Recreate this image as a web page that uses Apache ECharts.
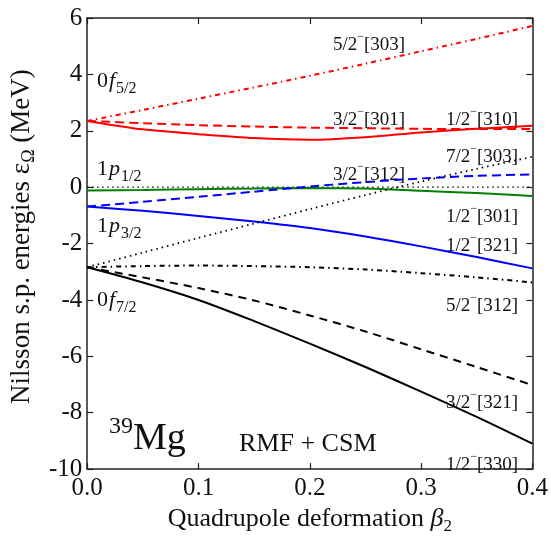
<!DOCTYPE html>
<html>
<head>
<meta charset="utf-8">
<script src="https://cdn.jsdelivr.net/npm/echarts@6/dist/echarts.min.js"></script>
<style>
  html, body { margin: 0; padding: 0; background: #fff; }
  #main { width: 551px; height: 540px; }
</style>
</head>
<body>
<div id="main"></div>
<script>
// 形变参数 β2
const beta = [0, 0.05, 0.1, 0.15, 0.2, 0.25, 0.3, 0.35, 0.4];
const xTicks = ['0.0', '0.1', '0.2', '0.3', '0.4'];
const yTicks = [-10, -8, -6, -4, -2, 0, 2, 4, 6];

// 单粒子能级 (MeV)
const f52_303 = [2.35, 2.74, 3.14, 3.54, 3.95, 4.38, 4.82, 5.26, 5.72];
const f32_301 = [2.35, 2.27, 2.2, 2.15, 2.11, 2.09, 2.07, 2.06, 2.06];
const f12_310 = [2.35, 2.05, 1.88, 1.74, 1.68, 1.77, 1.94, 2.07, 2.18];
const p12_301 = [-0.12, -0.1, -0.07, -0.05, -0.03, -0.05, -0.13, -0.21, -0.31];
const p32_312 = [-0.69, -0.52, -0.34, -0.16, 0.02, 0.18, 0.31, 0.4, 0.45];
const p12_321 = [-0.69, -0.84, -1.02, -1.22, -1.45, -1.75, -2.1, -2.48, -2.88];
const f72_303 = [-2.84, -2.32, -1.8, -1.29, -0.78, -0.28, 0.2, 0.65, 1.08];
const f52_312 = [-2.84, -2.8, -2.78, -2.8, -2.84, -2.92, -3.05, -3.2, -3.38];
const f32_321 = [-2.84, -3.2, -3.58, -4.02, -4.55, -5.12, -5.75, -6.38, -7.02];
const f12_330 = [-2.84, -3.38, -4.0, -4.75, -5.55, -6.38, -7.25, -8.15, -9.1];
const fermi = [0, 0, 0, 0, 0, 0, 0, 0, 0];

const serif = '"Liberation Serif", "Times New Roman", serif';

function pairs (ys) {
  return beta.map(function (b, i) { return [b, ys[i]]; });
}

function level (data, color, type, width) {
  return {
    type: 'line',
    data: pairs(data),
    smooth: 0.3,
    symbol: 'none',
    silent: true,
    lineStyle: { color: color, type: type, width: width || 2 }
  };
}

// 右侧 Nilsson 标签
function nilsson (x, y, head, tail) {
  return {
    type: 'text',
    x: x,
    y: y,
    style: {
      text: '{a|' + head + '}{m|\u2212}{a|' + tail + '}',
      textAlign: 'left', align: 'left',
      textVerticalAlign: 'middle', verticalAlign: 'middle',
      fill: '#111',
      rich: {
        a: { fontFamily: serif, fontSize: 19, lineHeight: 19, padding: [5, 0, 0, 0], verticalAlign: 'top', fill: '#111' },
        m: { fontFamily: serif, fontSize: 12, lineHeight: 12, verticalAlign: 'top', fill: '#111' }
      }
    }
  };
}

// 左侧球形轨道标签
function orbit (y, n, l, j) {
  return {
    type: 'text',
    x: 97,
    y: y,
    style: {
      text: '{n|' + n + '}{i|' + l + '}{s|' + j + '}',
      textAlign: 'left', align: 'left',
      textVerticalAlign: 'top', verticalAlign: 'top',
      fill: '#111',
      rich: {
        n: { fontFamily: serif, fontSize: 22, lineHeight: 22, verticalAlign: 'top', fill: '#111' },
        i: { fontFamily: serif, fontSize: 22, lineHeight: 22, fontStyle: 'italic', padding: [0, 1, 0, 1], verticalAlign: 'top', fill: '#111' },
        s: { fontFamily: serif, fontSize: 16, lineHeight: 16, padding: [11, 0, 0, 0], verticalAlign: 'top', fill: '#111' }
      }
    }
  };
}

var myChart = echarts.init(document.getElementById('main'));

let axisLine = { onZero: false, lineStyle: { color: '#222', width: 1.5 } };
let tick = { inside: true, length: 6, lineStyle: { color: '#222', width: 1.2 } };

let option = {
  animation: false,
  backgroundColor: '#fff',
  grid: { left: 86, right: 18, top: 18, bottom: 61 },
  xAxis: [{
    type: 'value',
    position: 'bottom',
    min: 0,
    max: 0.4,
    interval: 0.1,
    axisLine: axisLine,
    axisTick: tick,
    splitLine: { show: false },
    axisLabel: {
      fontFamily: serif, fontSize: 25, color: '#111', margin: 7,
      formatter: function (v) { return xTicks[Math.round(v * 10)]; }
    },
    name: '{n|Quadrupole deformation }{i|\u03b2}{s|2}',
    nameLocation: 'middle',
    nameGap: 30,
    nameTextStyle: {
      rich: {
        n: { fontFamily: serif, fontSize: 26, lineHeight: 26, verticalAlign: 'top', color: '#111' },
        i: { fontFamily: serif, fontSize: 26, lineHeight: 26, fontStyle: 'italic', verticalAlign: 'top', color: '#111' },
        s: { fontFamily: serif, fontSize: 17, lineHeight: 17, padding: [12, 0, 0, 0], verticalAlign: 'top', color: '#111' }
      }
    }
  }, {
    type: 'value',
    position: 'top',
    min: 0,
    max: 0.4,
    interval: 0.1,
    axisLine: axisLine,
    axisTick: tick,
    axisLabel: { show: false },
    splitLine: { show: false }
  }],
  yAxis: [{
    type: 'value',
    position: 'left',
    min: yTicks[0],
    max: yTicks[yTicks.length - 1],
    interval: 2,
    axisLine: axisLine,
    axisTick: tick,
    splitLine: { show: false },
    axisLabel: { fontFamily: serif, fontSize: 25, color: '#111', margin: 5 },
    name: '{n|Nilsson s.p. energies }{e|\u03b5}{s|\u03a9}{n| (MeV)}',
    nameLocation: 'middle',
    nameGap: 46,
    nameTextStyle: {
      padding: [0, 0, 0, 14],
      rich: {
        n: { fontFamily: serif, fontSize: 27, lineHeight: 27, verticalAlign: 'top', color: '#111' },
        e: { fontFamily: serif, fontSize: 27, lineHeight: 27, verticalAlign: 'top', color: '#111' },
        s: { fontFamily: serif, fontSize: 18, lineHeight: 18, padding: [12, 0, 0, 0], verticalAlign: 'top', color: '#111' }
      }
    }
  }, {
    type: 'value',
    position: 'right',
    min: yTicks[0],
    max: yTicks[yTicks.length - 1],
    interval: 2,
    axisLine: axisLine,
    axisTick: tick,
    axisLabel: { show: false },
    splitLine: { show: false }
  }],
  series: [
    level(fermi, '#000', [1.5, 3.5], 1.3),
    level(f52_303, '#ff0000', [5, 4, 1.5, 4]),
    level(f32_301, '#ff0000', [9, 5]),
    level(f12_310, '#ff0000', 'solid'),
    level(p12_301, '#008000', 'solid'),
    level(p32_312, '#0000ff', [9, 5]),
    level(p12_321, '#0000ff', 'solid'),
    level(f72_303, '#000', [1.5, 4], 1.8),
    level(f52_312, '#000', [5, 4, 1.5, 4]),
    level(f32_321, '#000', [8, 6]),
    level(f12_330, '#000', 'solid')
  ],
  graphic: [
    orbit(70, '0', 'f', '5/2'),
    orbit(158, '1', 'p', '1/2'),
    orbit(215, '1', 'p', '3/2'),
    orbit(289, '0', 'f', '7/2'),
    nilsson(333, 40, '5/2', '[303]'),
    nilsson(333, 115, '3/2', '[301]'),
    nilsson(446, 115, '1/2', '[310]'),
    nilsson(446, 152, '7/2', '[303]'),
    nilsson(333, 170, '3/2', '[312]'),
    nilsson(446, 212, '1/2', '[301]'),
    nilsson(446, 241, '1/2', '[321]'),
    nilsson(446, 301, '5/2', '[312]'),
    nilsson(446, 398, '3/2', '[321]'),
    nilsson(446, 460, '1/2', '[330]'),
    {
      type: 'text',
      x: 109,
      y: 415,
      style: {
        text: '{s|39}{m|Mg}',
        textAlign: 'left', align: 'left',
        textVerticalAlign: 'top', verticalAlign: 'top',
        fill: '#111',
        rich: {
          s: { fontFamily: serif, fontSize: 24, lineHeight: 24, verticalAlign: 'top', fill: '#111' },
          m: { fontFamily: serif, fontSize: 38, lineHeight: 38, padding: [5, 0, 0, 0], verticalAlign: 'top', fill: '#111' }
        }
      }
    },
    {
      type: 'text',
      x: 239,
      y: 444,
      style: {
        text: 'RMF + CSM',
        textAlign: 'left', align: 'left',
        textVerticalAlign: 'middle', verticalAlign: 'middle',
        font: '26px ' + serif,
        fill: '#111'
      }
    }
  ]
};

myChart.setOption(option);
</script>
</body>
</html>
